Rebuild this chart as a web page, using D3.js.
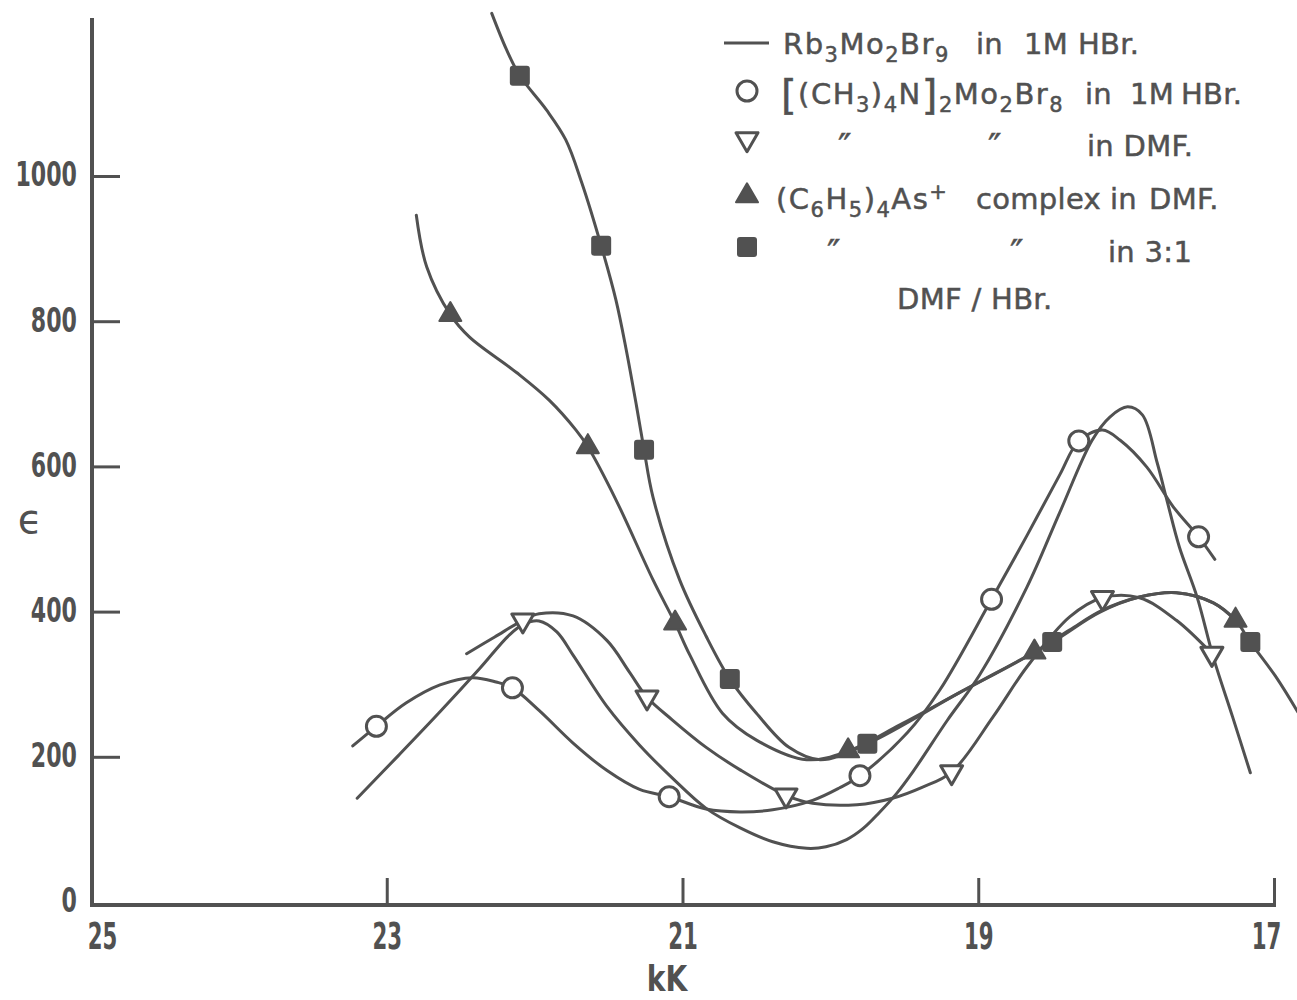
<!DOCTYPE html>
<html>
<head>
<meta charset="utf-8">
<script src="https://cdn.jsdelivr.net/npm/d3@7"></script>
<style>
  html, body { margin: 0; padding: 0; background: #fff; }
  svg { display: block; }
</style>
</head>
<body>
<svg id="chart" width="1297" height="1000"></svg>
<script>
// ---- data: wavenumber (kK) vs molar absorptivity (epsilon) ----
const xTicks = [25, 23, 21, 19, 17];
const yTicks = [0, 200, 400, 600, 800, 1000];
const xLabel = "kK";
const yLabel = "\u03F5";

// Rb3Mo2Br9 in 1M HBr (plain curve)
const rbCurve = [[23.20,143],[22.92,202],[22.64,262],[22.37,322],[22.17,368],[22.07,383],[21.97,387],
  [21.85,372],[21.74,340],[21.51,269],[21.29,216],[21.07,171],[20.84,129],[20.61,102],[20.39,83],
  [20.16,74],[20.03,76],[19.89,86],[19.78,101],[19.67,123],[19.55,150],[19.44,180],[19.21,250],[18.99,313],
  [18.67,434],[18.45,536],[18.23,636],[18.11,668],[17.99,682],[17.89,671],[17.79,605],[17.72,550],
  [17.64,489],[17.52,420],[17.41,337],[17.28,255],[17.16,178]];

// [(CH3)4N]2Mo2Br8 in 1M HBr (open circles)
const circleMarkers = [[23.07,242],[22.15,295],[21.09,145],[19.80,174],[18.91,417],[18.32,635],[17.51,503]];
const circleCurve = [[23.23,215],[23.07,242],[22.87,274],[22.64,299],[22.42,309],[22.26,303],[22.15,295],
  [21.97,264],[21.74,219],[21.51,181],[21.29,155],[21.09,145],[20.84,128],[20.61,124],[20.39,127],
  [20.12,140],[19.94,157],[19.80,174],[19.48,233],[19.26,292],[18.91,417],[18.67,505],[18.45,588],
  [18.32,635],[18.16,650],[18.04,636],[17.86,599],[17.68,544],[17.51,503],[17.40,472]];

// [(CH3)4N]2Mo2Br8 in DMF (open down-triangles)
const openTriMarkers = [[22.08,388],[21.24,282],[20.30,147],[19.18,179],[18.16,419],[17.42,342]];
const openTriCurve = [[22.46,342],[22.27,365],[22.08,388],[21.97,397],[21.74,394],[21.51,360],[21.36,317],
  [21.24,282],[21.07,251],[20.84,213],[20.61,182],[20.30,147],[20.12,136],[19.82,134],[19.58,143],
  [19.38,158],[19.18,179],[18.90,255],[18.67,324],[18.38,393],[18.16,419],[17.91,419],[17.66,388],
  [17.42,342]];

// (C6H5)4As+ complex in DMF (filled triangles)
const filledTriMarkers = [[22.57,809],[21.64,627],[21.05,384],[19.88,208],[18.62,344],[17.26,388]];
const filledTriCurve = [[22.80,946],[22.73,875],[22.57,809],[22.44,778],[22.12,729],[21.90,691],[21.72,650],
  [21.64,627],[21.45,554],[21.20,444],[21.05,384],[20.95,340],[20.73,260],[20.50,223],[20.16,196],
  [19.88,208],[19.53,244],[19.13,288],[18.62,344],[18.38,375],[18.16,402],[17.91,420],[17.66,426],
  [17.41,412],[17.26,388]];

// (C6H5)4As+ complex in 3:1 DMF/HBr (filled squares)
const squareMarkers = [[22.10,1138],[21.55,904],[21.26,623],[20.68,307],[19.75,218],[18.50,358],[17.16,358]];
const squareCurve = [[22.29,1224],[22.19,1174],[22.10,1138],[21.92,1091],[21.79,1050],[21.68,990],
  [21.55,904],[21.45,829],[21.38,760],[21.31,682],[21.26,623],[21.20,558],[21.02,444],[20.84,366],
  [20.68,307],[20.50,260],[20.28,213],[20.07,196],[19.75,218],[19.13,288],[18.50,358],[18.18,399],
  [17.91,420],[17.66,426],[17.41,412],[17.26,388],[17.16,358],[16.99,311],[16.84,262]];

// ---- drawing ----
const INK = "#515151";
const svg = d3.select("#chart");

const x = d3.scaleLinear().domain([25, 17]).range([91, 1274]);
const y = d3.scaleLinear().domain([0, 1000]).range([902, 176]);

const axisY = 905;   // baseline of the frame
const axisX = 92;

// frame lines
svg.append("line").attr("x1", axisX).attr("x2", axisX).attr("y1", 18).attr("y2", axisY + 2)
  .attr("stroke", INK).attr("stroke-width", 4);
svg.append("line").attr("x1", axisX - 2).attr("x2", x(17) + 2).attr("y1", axisY).attr("y2", axisY)
  .attr("stroke", INK).attr("stroke-width", 4);

// y axis: ticks point inward, labels on the left (narrow lettering)
const Y_SX = 0.67;
const gy = svg.append("g").attr("transform", `translate(${axisX},0)`)
  .call(d3.axisLeft(y).tickValues(yTicks).tickFormat(d3.format("d"))
    .tickSizeInner(-28).tickSizeOuter(0).tickPadding(15));
gy.select(".domain").remove();
gy.selectAll(".tick line").attr("stroke", INK).attr("stroke-width", 3)
  .filter(d => d === 0).remove();
gy.selectAll(".tick text")
  .attr("fill", INK).attr("font-family", "DejaVu Sans").attr("font-weight", "bold").attr("font-size", 33)
  .attr("x", -15 / Y_SX).attr("dy", "0.3em").attr("transform", `scale(${Y_SX},1)`);

// x axis: ticks point upward
const X_SX = 0.56;
const gx = svg.append("g").attr("transform", `translate(0,${axisY})`)
  .call(d3.axisBottom(x).tickValues(xTicks).tickSizeInner(-27).tickSizeOuter(0).tickPadding(17));
gx.select(".domain").remove();
gx.selectAll(".tick line").attr("stroke", INK).attr("stroke-width", 3)
  .filter(d => d === 25).remove();
gx.selectAll(".tick text")
  .attr("fill", INK).attr("font-family", "DejaVu Sans").attr("font-weight", "bold").attr("font-size", 38)
  .attr("dx", d => (d === 25 ? 11 : (d === 17 ? -8 : 0)) / X_SX)
  .attr("transform", `scale(${X_SX},1)`);

// axis titles
const K_SX = 0.78;
svg.append("text").attr("transform", `translate(667,991) scale(${K_SX},1)`).attr("text-anchor", "middle")
  .attr("font-family", "DejaVu Sans").attr("font-weight", "bold").attr("font-size", 36).attr("fill", INK)
  .text(xLabel);
svg.append("text").attr("x", 30).attr("y", 533).attr("text-anchor", "middle")
  .attr("font-family", "DejaVu Sans").attr("font-size", 40).attr("fill", INK).text(yLabel);

// curves
const line = d3.line().x(d => x(d[0])).y(d => y(d[1])).curve(d3.curveCatmullRom.alpha(0.5));
const curves = [rbCurve, circleCurve, openTriCurve, filledTriCurve, squareCurve];
svg.append("g").selectAll("path").data(curves).join("path")
  .attr("d", line).attr("fill", "none").attr("stroke", INK).attr("stroke-width", 3)
  .attr("stroke-linecap", "round");

// marker shapes
const TRI_S = 22, TRI_H = 19;
const triUp = `M0,${-2 * TRI_H / 3}L${TRI_S / 2},${TRI_H / 3}L${-TRI_S / 2},${TRI_H / 3}Z`;
const triDown = `M0,${2 * TRI_H / 3}L${TRI_S / 2},${-TRI_H / 3}L${-TRI_S / 2},${-TRI_H / 3}Z`;

const mk = svg.append("g");
mk.selectAll("circle.c").data(circleMarkers).join("circle").attr("class", "c")
  .attr("cx", d => x(d[0])).attr("cy", d => y(d[1])).attr("r", 10)
  .attr("fill", "#fff").attr("stroke", INK).attr("stroke-width", 3);
mk.selectAll("path.ot").data(openTriMarkers).join("path").attr("class", "ot")
  .attr("transform", d => `translate(${x(d[0])},${y(d[1])})`).attr("d", triDown)
  .attr("fill", "#fff").attr("stroke", INK).attr("stroke-width", 3).attr("stroke-linejoin", "round");
mk.selectAll("path.ft").data(filledTriMarkers).join("path").attr("class", "ft")
  .attr("transform", d => `translate(${x(d[0])},${y(d[1])})`).attr("d", triUp)
  .attr("fill", INK).attr("stroke", INK).attr("stroke-width", 2).attr("stroke-linejoin", "round");
mk.selectAll("rect.sq").data(squareMarkers).join("rect").attr("class", "sq")
  .attr("x", d => x(d[0]) - 10).attr("y", d => y(d[1]) - 10).attr("width", 20).attr("height", 20)
  .attr("rx", 3).attr("fill", INK);

// legend
const lg = svg.append("g").attr("fill", INK).attr("font-family", "DejaVu Sans");
lg.append("line").attr("x1", 724).attr("x2", 769).attr("y1", 43).attr("y2", 43)
  .attr("stroke", INK).attr("stroke-width", 3);
lg.append("circle").attr("cx", 747).attr("cy", 91).attr("r", 10)
  .attr("fill", "#fff").attr("stroke", INK).attr("stroke-width", 3);
lg.append("path").attr("transform", "translate(747,139)").attr("d", triDown)
  .attr("fill", "#fff").attr("stroke", INK).attr("stroke-width", 3).attr("stroke-linejoin", "round");
lg.append("path").attr("transform", "translate(747,196)").attr("d", triUp)
  .attr("fill", INK).attr("stroke", INK).attr("stroke-width", 2).attr("stroke-linejoin", "round");
lg.append("rect").attr("x", 737).attr("y", 237).attr("width", 20).attr("height", 20)
  .attr("rx", 3).attr("fill", INK);

const legendRows = [
  { y: 54, runs: [{ t: "Rb", x: 783 }, { t: "3", s: "sub" }, { t: "Mo" }, { t: "2", s: "sub" }, { t: "Br" },
    { t: "9", s: "sub" }, { t: "in", x: 976, w: 1 }, { t: "1M", x: 1024, w: 1 }, { t: "HBr.", x: 1078, w: 1 }] },
  { y: 104, runs: [{ t: "[", x: 781, s: "big" }, { t: "(CH" }, { t: "3", s: "sub" }, { t: ")" }, { t: "4", s: "sub" },
    { t: "N" }, { t: "]", s: "big" }, { t: "2", s: "sub" }, { t: "Mo" }, { t: "2", s: "sub" }, { t: "Br" },
    { t: "8", s: "sub" }, { t: "in", x: 1085, w: 1 }, { t: "1M", x: 1130, w: 1 }, { t: "HBr.", x: 1181, w: 1 }] },
  { y: 156, runs: [{ t: "\u2033", x: 838, s: "dit" }, { t: "\u2033", x: 988, s: "dit" }, { t: "in DMF.", x: 1087, w: 1 }] },
  { y: 209, runs: [{ t: "(C", x: 776 }, { t: "6", s: "sub" }, { t: "H" }, { t: "5", s: "sub" }, { t: ")" },
    { t: "4", s: "sub" }, { t: "As" }, { t: "+", s: "sup" }, { t: "complex", x: 976, w: 1 },
    { t: "in", x: 1110, w: 1 }, { t: "DMF.", x: 1149, w: 1 }] },
  { y: 262, runs: [{ t: "\u2033", x: 827, s: "dit" }, { t: "\u2033", x: 1010, s: "dit" }, { t: "in 3:1", x: 1108, w: 1 }] },
  { y: 309, runs: [{ t: "DMF / HBr.", x: 897, w: 1 }] }
];
const runSize = { sub: 21, sup: 21, big: 40, dit: 36 };
const runShift = { sub: 8, sup: -10, big: 5, dit: 3 };
legendRows.forEach(row => {
  const t = lg.append("text").attr("y", row.y).attr("font-size", 29)
    .attr("stroke", INK).attr("stroke-width", 0.5).attr("xml:space", "preserve");
  let cur = 0;
  row.runs.forEach(r => {
    const shift = runShift[r.s] || 0;
    const ts = t.append("tspan").text(r.t).attr("dy", shift - cur)
      .attr("letter-spacing", r.w ? 0.3 : 1.5);
    if (r.x !== undefined) ts.attr("x", r.x);
    if (r.s) ts.attr("font-size", runSize[r.s]);
    cur = shift;
  });
});
</script>
</body>
</html>
